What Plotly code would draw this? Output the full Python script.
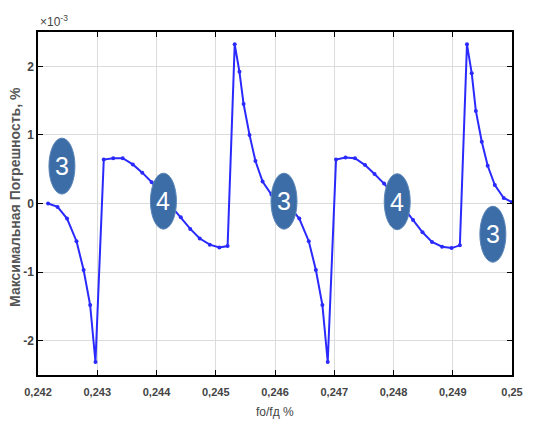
import plotly.graph_objects as go

# fo/fд, %
freq_ratio = [
    0.24217, 0.24233, 0.24249, 0.24265, 0.24277, 0.24288, 0.24297,
    0.24311, 0.24327, 0.24343, 0.24360, 0.24376, 0.24392, 0.24408, 0.24424,
    0.24441, 0.24457, 0.24473, 0.24490, 0.24506, 0.24520,
    0.24532, 0.24540, 0.24547, 0.24557, 0.24567, 0.24579, 0.24594, 0.24609,
    0.24625, 0.24641, 0.24657, 0.24669, 0.24680, 0.24689,
    0.24703, 0.24719, 0.24735, 0.24752, 0.24768, 0.24784, 0.24800, 0.24816,
    0.24833, 0.24849, 0.24865, 0.24882, 0.24898, 0.24912,
    0.24924, 0.24932, 0.24939, 0.24949, 0.24959, 0.24971, 0.24986, 0.25000,
]
# max error, units of 1e-3 %
max_error_e3 = [
    0.00, -0.05, -0.22, -0.55, -0.97, -1.48, -2.31,
    0.64, 0.66, 0.66, 0.57, 0.45, 0.31, 0.15, -0.03,
    -0.20, -0.37, -0.51, -0.60, -0.64, -0.62,
    2.32, 1.92, 1.45, 1.00, 0.62, 0.32, 0.13, 0.00,
    -0.05, -0.22, -0.55, -0.97, -1.48, -2.31,
    0.64, 0.67, 0.66, 0.56, 0.43, 0.29, 0.13, -0.05,
    -0.24, -0.42, -0.56, -0.63, -0.65, -0.61,
    2.32, 1.90, 1.35, 0.90, 0.55, 0.27, 0.08, 0.02,
]

x_ticks = [0.242, 0.243, 0.244, 0.245, 0.246, 0.247, 0.248, 0.249, 0.250]
x_tick_labels = ["0,242", "0,243", "0,244", "0,245", "0,246", "0,247", "0,248", "0,249", "0,25"]
y_ticks = [-2, -1, 0, 1, 2]
y_tick_labels = ["-2", "-1", "0", "1", "2"]

# badge labels and positions (data coords)
badge_text = ["3", "4", "3", "4", "3"]
badge_x = [0.242404, 0.244117, 0.246152, 0.248063, 0.249677]
badge_y = [0.545, 0.034, 0.034, 0.026, -0.448]

FONT = "Liberation Sans, Arial"

fig = go.Figure()
fig.add_trace(go.Scatter(
    x=freq_ratio, y=max_error_e3, mode="lines+markers",
    line=dict(color="#2a2aff", width=2),
    marker=dict(color="#2a2aff", size=4),
    showlegend=False,
))

shapes = []
annotations = []
for t, bx, by in zip(badge_text, badge_x, badge_y):
    shapes.append(dict(
        type="circle", xref="x", yref="y",
        xsizemode="pixel", ysizemode="pixel",
        xanchor=bx, yanchor=by,
        x0=-13, x1=13, y0=-28, y1=28,
        fillcolor="#3d6da6", line=dict(color="#5a86b8", width=1),
        layer="above",
    ))
    annotations.append(dict(
        x=bx, y=by, xref="x", yref="y", text=t, showarrow=False,
        font=dict(family=FONT, size=25, color="white"),
    ))

annotations.append(dict(
    x=0.0, y=1.0, xref="paper", yref="paper", xanchor="left", yanchor="bottom",
    yshift=1,
    text="×10<sup>-3</sup>", showarrow=False,
    font=dict(family=FONT, size=12, color="#444"),
))
annotations.append(dict(
    x=-0.05, y=0.52, xref="paper", yref="paper", xanchor="center", yanchor="middle",
    text="<b>Максимальная Погрешность, %</b>", textangle=-90, showarrow=False,
    font=dict(family=FONT, size=14, color="#555"),
))
annotations.append(dict(
    x=0.5, y=0, xref="paper", yref="paper", xanchor="center", yanchor="top",
    yshift=-28,
    text="fo/fд %", showarrow=False,
    font=dict(family=FONT, size=12, color="#444"),
))

fig.update_layout(
    width=535, height=423,
    margin=dict(l=38, r=12, t=32, b=48),
    paper_bgcolor="white", plot_bgcolor="white",
    shapes=shapes, annotations=annotations,
    xaxis=dict(
        range=[0.242, 0.250], tickvals=x_ticks, ticktext=x_tick_labels,
        showgrid=True, gridcolor="#dcdcdc", gridwidth=1,
        showline=True, linecolor="black", linewidth=1.5, mirror="ticks",
        ticks="inside", ticklen=5, tickcolor="black",
        ticklabelstandoff=6,
        tickfont=dict(family=FONT, size=11, color="#444", weight="bold"),
        zeroline=False,
    ),
    yaxis=dict(
        range=[-2.5, 2.5], tickvals=y_ticks, ticktext=y_tick_labels,
        showgrid=True, gridcolor="#dcdcdc", gridwidth=1,
        showline=True, linecolor="black", linewidth=1.5, mirror="ticks",
        ticks="inside", ticklen=5, tickcolor="black",
        tickfont=dict(family=FONT, size=12, color="#444", weight="bold"),
        zeroline=False,
    ),
)

fig.write_html("out.html")
